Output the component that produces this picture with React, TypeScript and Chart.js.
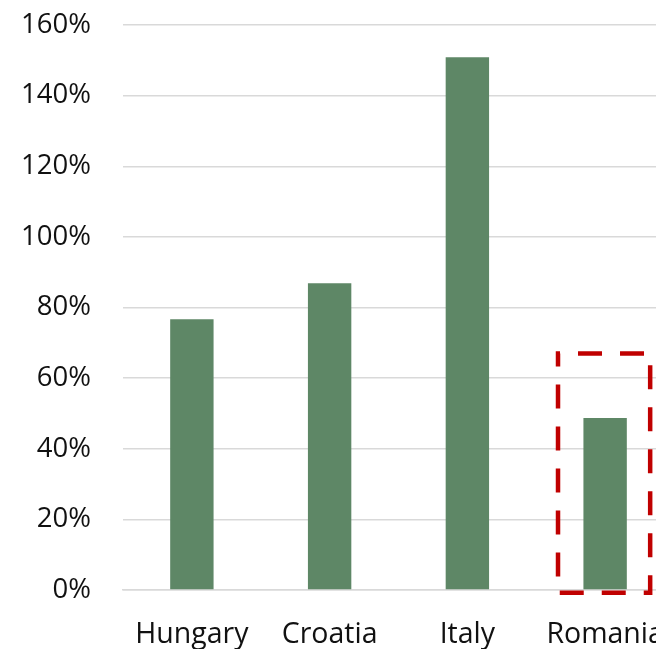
import React, { useEffect, useRef } from "react";
import { Chart, registerables } from "chart.js";

Chart.register(...registerables);

const categories = ["Hungary", "Croatia", "Italy", "Romania"];
const values = [76.7, 86.9, 150.9, 48.7];
const yTicks = [0, 20, 40, 60, 80, 100, 120, 140, 160];
// highlight box around Romania, in data units (category index offsets, percent)
const highlightIndex = 3;
const highlightXFrom = -0.342;
const highlightXTo = 0.327;
const highlightYTop = 67.0;
const highlightYBottom = -0.8;

const FONT = "'Open Sans', 'Noto Sans', sans-serif";

const highlightPlugin = {
  id: "highlightBox",
  afterDatasetsDraw(chart: any) {
    const { ctx, scales } = chart;
    const x0 = scales.x.getPixelForValue(highlightIndex + highlightXFrom);
    const x1 = scales.x.getPixelForValue(highlightIndex + highlightXTo);
    const y0 = scales.y.getPixelForValue(highlightYTop);
    const y1 = scales.y.getPixelForValue(highlightYBottom);
    ctx.save();
    ctx.strokeStyle = "#c00000";
    ctx.lineWidth = 4.5;
    ctx.setLineDash([24, 18]);
    ctx.lineDashOffset = 22;
    ctx.beginPath();
    ctx.rect(x0, y0, x1 - x0, y1 - y0);
    ctx.stroke();
    ctx.restore();
  },
};

export default function App() {
  const ref = useRef<HTMLCanvasElement | null>(null);
  useEffect(() => {
    if (!ref.current) return;
    const chart = new Chart(ref.current, {
      type: "bar",
      data: {
        labels: categories,
        datasets: [
          {
            data: values,
            backgroundColor: "#5e8766",
            borderWidth: 0,
            barPercentage: 0.315,
            categoryPercentage: 1,
          },
        ],
      },
      options: {
        responsive: false,
        animation: false,
        layout: { padding: { top: 25, right: 16, left: 0, bottom: 0 } },
        plugins: { legend: { display: false }, tooltip: { enabled: false } },
        scales: {
          x: {
            grid: { display: false, drawTicks: false },
            border: { display: true, color: "#d9d9d9", width: 1.5 },
            ticks: {
              color: "#111",
              font: { family: FONT, size: 28.5 },
              padding: 28,
              maxRotation: 0,
              autoSkip: false,
            },
            afterFit(scale: any) {
              scale.height = 59;
              scale.paddingTop = 0;
              scale.paddingBottom = 0;
              scale.paddingLeft = 0;
              scale.paddingRight = 0;
            },
          },
          y: {
            min: 0,
            max: 160,
            afterBuildTicks(scale: any) {
              scale.ticks = yTicks.map((v) => ({ value: v }));
            },
            grid: { color: "#d9d9d9", lineWidth: 1.5, drawTicks: false },
            border: { display: false },
            ticks: {
              color: "#111",
              font: { family: FONT, size: 27.5 },
              padding: 32,
              callback: (v: any) => v + "%",
            },
            afterFit(scale: any) {
              scale.width = 123;
              scale.paddingTop = 0;
              scale.paddingBottom = 0;
            },
          },
        },
      },
      plugins: [highlightPlugin],
    });
    return () => chart.destroy();
  }, []);
  return (
    <div
      style={{
        position: "fixed",
        left: 0,
        top: 0,
        width: 656,
        height: 649,
        overflow: "hidden",
        background: "#fff",
      }}
    >
      <canvas ref={ref} width={690} height={649} style={{ position: "absolute", left: 0, top: 0 }} />
    </div>
  );
}
